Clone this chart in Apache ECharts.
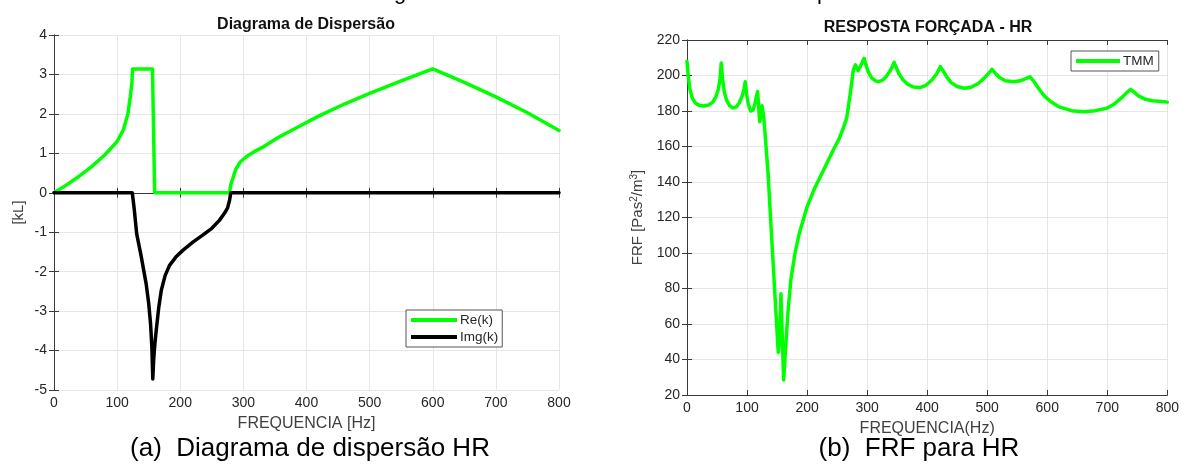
<!DOCTYPE html>
<html>
<head>
<meta charset="utf-8">
<title>Diagrama de Dispersão / FRF</title>
<script src="https://cdn.jsdelivr.net/npm/echarts@6/dist/echarts.min.js"></script>
<style>
  html, body { margin: 0; padding: 0; background: #fff; }
  #main { width: 1182px; height: 466px; }
</style>
</head>
<body>
<div id="main"></div>
<script>
// (a) diagrama de dispersão - Re(k) e Img(k) em função da frequência [Hz]
const reFreq = [0, 20, 40, 60, 80, 100, 110, 117, 121, 123.5, 124.5, 156, 159.5, 278, 280, 283, 288, 295, 305, 318, 330, 355, 388, 420, 460, 500, 550, 600, 650, 700, 750, 800];
const reVals = [0, 0.2, 0.42, 0.67, 0.95, 1.3, 1.6, 2.0, 2.45, 2.8, 3.14, 3.14, 0, 0, 0.2, 0.35, 0.6, 0.78, 0.92, 1.05, 1.15, 1.4, 1.68, 1.95, 2.25, 2.52, 2.84, 3.14, 2.8, 2.43, 2.03, 1.58];

const imFreq = [0, 124, 127, 131, 138, 146, 150, 153, 155, 156.5, 158, 160, 162, 166, 170, 176, 183, 193, 204, 220, 235, 250, 262, 270, 275, 278, 280, 800];
const imVals = [0, 0, -0.4, -1.04, -1.6, -2.31, -2.8, -3.33, -3.9, -4.72, -4.2, -3.8, -3.48, -2.9, -2.47, -2.1, -1.84, -1.63, -1.46, -1.25, -1.08, -0.9, -0.7, -0.52, -0.38, -0.2, 0, 0];

// (b) FRF para HR (TMM)
const frfFreq = [0, 2, 5, 9, 14, 20, 28, 36, 43, 48, 52, 55, 57, 59, 62, 66, 71, 76, 82, 87, 92, 95, 97, 99, 102, 106, 110, 113, 116, 117.5, 119, 121, 123, 125, 126, 128,
  135, 145, 152, 154, 156.5, 158, 161, 164, 168, 173, 180, 187, 200, 212, 222, 235, 245, 253, 260, 266, 272, 277, 280.5, 285, 290, 295,
  298, 302, 308, 314, 319, 325, 332, 338, 342, 345, 348, 353, 360, 368, 377, 388, 398, 408, 416, 422, 426, 432, 440, 450, 462, 474, 485, 495, 503, 508,
  513, 520, 530, 545, 555, 564, 571, 578, 586, 595, 605, 620, 640, 661, 680, 699, 712, 724, 733, 739, 745, 752, 762, 775, 790, 800];
const frfVals = [208, 200, 192, 187, 184.5, 183.2, 182.8, 183.4, 185, 188, 192, 198, 207, 199, 191, 186, 183, 181.7, 182.3, 184.5, 188.5, 192.5, 196.5, 190, 184, 180, 180.5, 184, 188.5, 191, 184, 174, 178, 183, 182, 176,
  145, 85, 44, 50, 77, 60, 28.5, 45, 66, 85, 100, 111, 126, 136, 143, 152, 159, 164, 170, 176, 190, 203, 206, 202.7, 206, 209.7,
  206, 202, 198.5, 197, 196.5, 197.2, 199.5, 202.5, 205, 207.4, 205, 201, 197.5, 195, 193.5, 193.2, 194.5, 197.5, 201, 205, 203, 199.5, 196, 193.8, 192.8, 193.5, 195.5, 198.5, 201.5, 203.5,
  201.5, 199, 197, 196.5, 197, 198.2, 199.3, 196.5, 192.5, 188.5, 185.5, 182.3, 180.2, 179.6, 180.2, 181.5, 184, 187.5, 190.5, 192.2, 190.5, 188.5, 186.8, 185.8, 185.3, 185];

const xTicks = [0, 800, 100];     // min, max, interval
const kTicks = [-5, 4, 1];
const frfTicks = [20, 220, 20];

const pairs = (xs, ys) => xs.map((x, i) => [x, ys[i]]);

const font = 'Arial, "Liberation Sans", Helvetica, sans-serif';
const txt = '#262626';
const gridCol = '#e6e6e6';
const edge = '#3a3a3a';

function mainX(gridIndex, name, t) {
  return {
    type: 'value', gridIndex, min: t[0], max: t[1], interval: t[2],
    name, nameLocation: 'middle', nameGap: 26,
    nameTextStyle: { fontFamily: font, fontSize: 16, color: '#404040' },
    axisLine: { show: true, lineStyle: { color: edge, width: 1 } },
    axisTick: { show: true, inside: true, length: 5, lineStyle: { color: edge } },
    axisLabel: { fontFamily: font, fontSize: 14, color: txt, margin: 6 },
    splitLine: { show: true, lineStyle: { color: gridCol, width: 1 } }
  };
}
function boxX(gridIndex, t) {
  return {
    type: 'value', gridIndex, position: 'top', min: t[0], max: t[1], interval: t[2],
    axisLine: { show: true, lineStyle: { color: edge, width: 1 } },
    axisTick: { show: true, inside: true, length: 5, lineStyle: { color: edge } },
    axisLabel: { show: false }, splitLine: { show: false }
  };
}
function mainY(gridIndex, name, t, gap) {
  return {
    type: 'value', gridIndex, min: t[0], max: t[1], interval: t[2],
    name, nameLocation: 'middle', nameGap: gap,
    nameTextStyle: {
      fontFamily: font, fontSize: 15, color: '#404040',
      rich: { sup: { fontFamily: font, fontSize: 10, color: '#404040', verticalAlign: 'top', padding: [0, 0, 8, 0] } }
    },
    axisLine: { show: true, lineStyle: { color: edge, width: 1 } },
    axisTick: { show: true, inside: true, length: 5, lineStyle: { color: edge } },
    axisLabel: { fontFamily: font, fontSize: 14, color: txt, margin: 7 },
    splitLine: { show: true, lineStyle: { color: gridCol, width: 1 } }
  };
}
function boxY(gridIndex, t) {
  return {
    type: 'value', gridIndex, position: 'right', min: t[0], max: t[1], interval: t[2],
    axisLine: { show: true, lineStyle: { color: edge, width: 1 } },
    axisTick: { show: true, inside: true, length: 5, lineStyle: { color: edge } },
    axisLabel: { show: false }, splitLine: { show: false }
  };
}

const chart = echarts.init(document.getElementById('main'));

const option = {
  animation: false,
  backgroundColor: '#ffffff',
  grid: [
    { left: 54, top: 35, width: 505, height: 355 },
    { left: 687, top: 40, width: 483, height: 355 }
  ],
  xAxis: [
    mainX(0, 'FREQUENCIA [Hz]', xTicks),
    boxX(0, xTicks),
    mainX(1, 'FREQUENCIA(Hz)', xTicks),
    boxX(1, xTicks)
  ],
  yAxis: [
    mainY(0, '[kL]', kTicks, 28),
    boxY(0, kTicks),
    mainY(1, 'FRF [Pas{sup|2}/m{sup|3}]', frfTicks, 40),
    boxY(1, frfTicks)
  ],
  legend: [
    {
      data: ['Re(k)', 'Img(k)'], orient: 'vertical', left: 406, top: 310,
      icon: 'rect', itemWidth: 46, itemHeight: 4, itemGap: 3,
      padding: [3, 4, 3, 5], borderColor: '#555', borderWidth: 1,
      backgroundColor: '#fff',
      textStyle: { fontFamily: font, fontSize: 13.5, color: txt, padding: [0, 0, 0, -2] }
    },
    {
      data: ['TMM'], orient: 'vertical', left: 1071, top: 51,
      icon: 'rect', itemWidth: 44, itemHeight: 4,
      padding: [3, 5, 3, 5], borderColor: '#555', borderWidth: 1,
      backgroundColor: '#fff',
      textStyle: { fontFamily: font, fontSize: 13.5, color: txt, padding: [0, 0, 0, -2] }
    }
  ],
  series: [
    {
      name: 'Re(k)', type: 'line', xAxisIndex: 0, yAxisIndex: 0,
      data: pairs(reFreq, reVals), showSymbol: false, color: '#00ff00',
      lineStyle: { width: 3.5, color: '#00ff00', cap: 'round', join: 'round' }
    },
    {
      name: 'Img(k)', type: 'line', xAxisIndex: 0, yAxisIndex: 0,
      data: pairs(imFreq, imVals), showSymbol: false, color: '#000000',
      lineStyle: { width: 3.5, color: '#000000', cap: 'round', join: 'round' }
    },
    {
      name: 'TMM', type: 'line', xAxisIndex: 2, yAxisIndex: 2,
      data: pairs(frfFreq, frfVals), showSymbol: false, color: '#00ff00',
      lineStyle: { width: 3.5, color: '#00ff00', cap: 'round', join: 'round' }
    }
  ],
  graphic: [
    // titulos dos graficos
    { type: 'text', x: 306, y: 17, style: { text: 'Diagrama de Dispersão', align: 'center', fill: '#111', font: 'bold 16px ' + font } },
    { type: 'text', x: 928, y: 20, style: { text: 'RESPOSTA FORÇADA - HR', align: 'center', fill: '#111', font: 'bold 16px ' + font } },
    // legendas das figuras
    { type: 'text', x: 310, y: 436, style: { text: '(a)  Diagrama de dispersão HR', align: 'center', fill: '#000', font: '26px ' + font } },
    { type: 'text', x: 919, y: 436, style: { text: '(b)  FRF para HR', align: 'center', fill: '#000', font: '26px ' + font } },
    // restos da linha de texto cortada no topo
    { type: 'text', x: 400, y: -18, style: { text: 'g', align: 'center', fill: '#000', font: '22px ' + font } },
    { type: 'text', x: 823, y: -18, style: { text: 'p', align: 'center', fill: '#000', font: '22px ' + font } }
  ]
};

option && chart.setOption(option);
</script>
</body>
</html>
